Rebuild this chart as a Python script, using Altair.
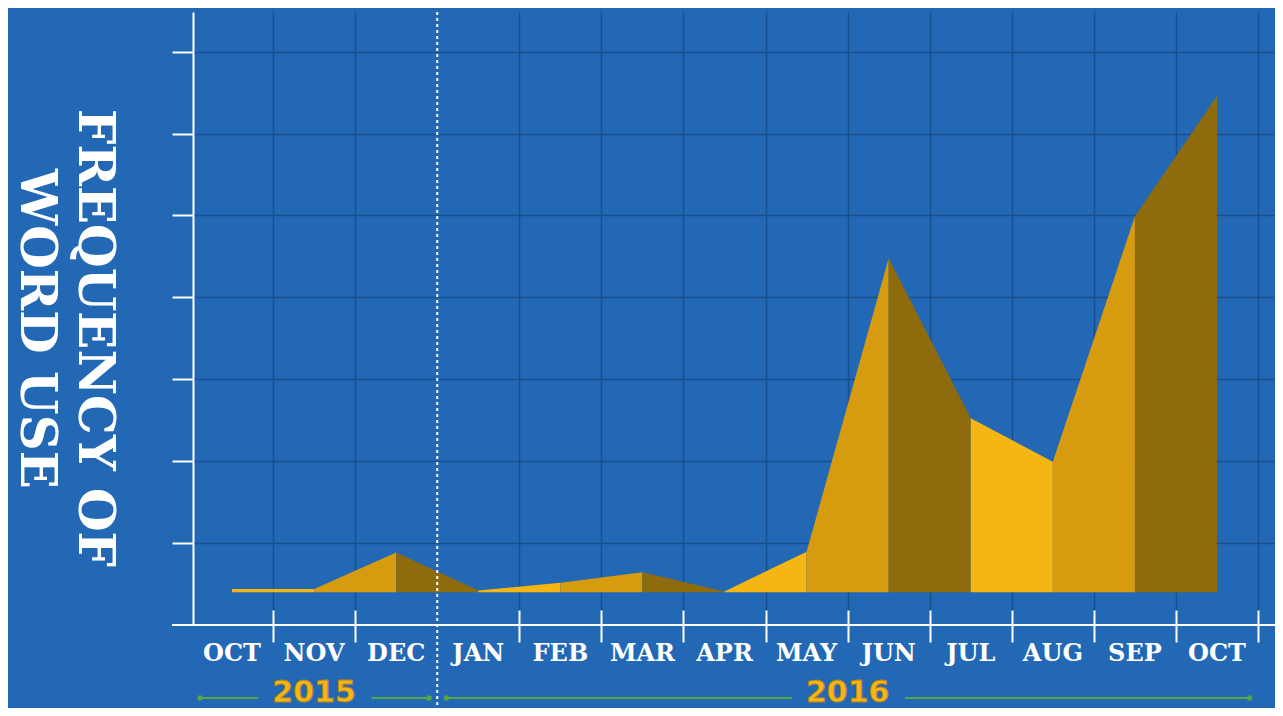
import altair as alt
import pandas as pd

# ---- data ----
months = ["OCT", "NOV", "DEC", "JAN", "FEB", "MAR", "APR", "MAY", "JUN", "JUL", "AUG", "SEP", "OCT"]
years = [2015, 2015, 2015, 2016, 2016, 2016, 2016, 2016, 2016, 2016, 2016, 2016, 2016]
values = [0.44, 0.44, 0.885, 0.42, 0.516, 0.643, 0.41, 0.895, 4.477, 2.524, 1.994, 4.99, 6.46]
baseline = 0.40
shade_cycle = ["light", "medium", "dark"]
grid_values_y = [1, 2, 3, 4, 5, 6, 7]
title_lines = ["FREQUENCY OF", "WORD USE"]

# ---- styles ----
BG = "#2368b5"
GRID = "#17508f"
SHADE_COLORS = ["#f5b512", "#d69b0e", "#8e6b0c"]
YEAR_COLOR = "#f2b51a"
ARROW_COLOR = "#55a83e"
SERIF = "DejaVu Serif"

W, H = 1084, 613
n = len(months)
idx = list(range(n))

# segment table for coloured area pieces
rows = []
for i in range(n - 1):
    shade = shade_cycle[i % 3]
    for j in (i, i + 1):
        rows.append({"x": j, "v": values[j], "base": baseline, "seg": i, "shade": shade})
seg_df = pd.DataFrame(rows)

split = years.index(2016) - 0.5
boundaries = [k + 0.5 for k in range(n) if k + 0.5 != split]

xscale = alt.Scale(domain=[-0.5, -0.5 + W / 82.08], nice=False, zero=False)
yscale = alt.Scale(domain=[0, H / 81.9], nice=False, zero=False)


def X(field):
    return alt.X(f"{field}:Q", scale=xscale, title=None,
                 axis=alt.Axis(values=boundaries, labels=False, title=None, grid=True,
                               gridColor=GRID, gridWidth=1.5, ticks=True, tickColor="white",
                               tickSize=32, tickWidth=2, domain=False, offset=-15))


area = alt.Chart(seg_df).mark_area(interpolate="linear").encode(
    x=X("x"),
    y=alt.Y("v:Q", scale=yscale, title=None,
            axis=alt.Axis(values=grid_values_y, labels=False, title=None, grid=True,
                          gridColor=GRID, gridWidth=1.5, ticks=True, tickColor="white",
                          tickSize=21, tickWidth=2, domain=True, domainColor="white",
                          domainWidth=2, offset=-2)),
    y2="base:Q",
    detail="seg:N",
    color=alt.Color("shade:N", scale=alt.Scale(domain=shade_cycle, range=SHADE_COLORS), legend=None),
)

dummy = pd.DataFrame({"a": [0]})
xaxis_line = alt.Chart(dummy).mark_rule(color="white", strokeWidth=2).encode(
    x=alt.value(-19), x2=alt.value(W + 2), y=alt.value(H)
)

split_df = pd.DataFrame({"split": [split]})
split_line = alt.Chart(split_df).mark_rule(color="white", strokeWidth=2, strokeDash=[3, 3]).encode(
    x=X("split"), y=alt.value(0), y2=alt.value(H + 83)
)

month_df = pd.DataFrame({"x": idx, "m": months})
month_labels = alt.Chart(month_df).mark_text(
    font=SERIF, fontWeight="bold", fontSize=24, color="white", baseline="alphabetic", align="center"
).encode(x=X("x"), y=alt.value(H + 36), text="m:N")

# year labels and arrows
yr_rows = []
for yv in sorted(set(years)):
    ids = [i for i, y in enumerate(years) if y == yv]
    first, last = ids[0], ids[-1]
    c = (first + last) / 2
    yr_rows.append({"year": str(yv), "c": c, "s": first - 0.39, "e": last + 0.4,
                    "l_end": c - 0.68, "r_start": c + 0.7})
yr_df = pd.DataFrame(yr_rows)

year_text = alt.Chart(yr_df).mark_text(
    font="DejaVu Sans", fontWeight="bold", fontSize=30, color=YEAR_COLOR,
    stroke="#b7800f", strokeWidth=0.8, baseline="alphabetic", align="center"
).encode(x=X("c"), y=alt.value(H + 77), text="year:N")

arrow_left = alt.Chart(yr_df).mark_rule(color=ARROW_COLOR, strokeWidth=2).encode(
    x=X("s"), x2="l_end:Q", y=alt.value(H + 73)
)
arrow_right = alt.Chart(yr_df).mark_rule(color=ARROW_COLOR, strokeWidth=2).encode(
    x=X("r_start"), x2="e:Q", y=alt.value(H + 73)
)
ends_df = pd.DataFrame({"p": list(yr_df["s"]) + list(yr_df["e"])})
arrow_dots = alt.Chart(ends_df).mark_circle(color=ARROW_COLOR, size=28, opacity=1).encode(
    x=X("p"), y=alt.value(H + 73)
)

title1 = alt.Chart(pd.DataFrame({"t": [title_lines[0]]})).mark_text(
    font=SERIF, fontWeight="bold", fontSize=50, color="white", angle=90,
    align="center", baseline="middle"
).encode(x=alt.value(-97), y=alt.value(326), text="t:N")
title2 = alt.Chart(pd.DataFrame({"t": [title_lines[1]]})).mark_text(
    font=SERIF, fontWeight="bold", fontSize=50, color="white", angle=90,
    align="center", baseline="middle"
).encode(x=alt.value(-155), y=alt.value(317), text="t:N")

chart = alt.layer(
    area, xaxis_line, split_line, month_labels, arrow_left, arrow_right, arrow_dots,
    year_text, title1, title2
).properties(
    width=W, height=H,
    autosize=alt.AutoSizeParams(type="none"),
    padding={"left": 183, "top": 4, "right": 0, "bottom": 83},
).configure(background=BG).configure_view(stroke=None)

chart.save("out.html", embed_options={"renderer": "svg", "actions": False})
